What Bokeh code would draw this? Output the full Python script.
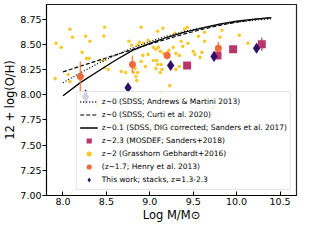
from bokeh.plotting import figure
from bokeh.models import ColumnDataSource, Legend, LegendItem, Range1d, FixedTicker
from bokeh.embed import file_html
from bokeh.resources import INLINE

# ---------------- data ----------------
curve_mass = [8.0, 8.2, 8.4, 8.6, 8.8, 9.0, 9.2, 9.4, 9.6, 9.8, 10.0, 10.2, 10.4]
am13_oh = [8.119, 8.217, 8.308, 8.390, 8.463, 8.528, 8.582, 8.628, 8.665, 8.696, 8.720, 8.738, 8.753]
curti20_oh = [8.227, 8.283, 8.338, 8.393, 8.448, 8.502, 8.553, 8.603, 8.648, 8.687, 8.720, 8.745, 8.763]
sanders17_oh = [7.99, 8.12, 8.23, 8.34, 8.44, 8.51, 8.57, 8.62, 8.66, 8.70, 8.73, 8.75, 8.765]

gg_mass = [8.08, 8.48, 8.11, 8.26, 8.31, 8.47, 7.92, 7.98, 8.22, 8.27, 8.30, 8.46, 8.52, 8.48,
           8.67, 8.72, 8.06, 8.08, 7.91, 8.39, 8.76, 8.90, 9.09, 9.15, 9.29, 9.40, 9.56, 9.63,
           9.43, 8.79, 8.86, 8.93, 8.88, 8.98, 9.04, 9.07, 9.10, 9.12, 9.16, 9.22, 9.27, 9.30,
           9.34, 9.36, 9.38, 9.50, 9.52, 9.63, 8.98, 8.92, 9.04, 9.08, 9.09, 8.95, 8.90, 9.13,
           9.30, 9.34, 8.83, 8.81, 8.86, 9.12, 9.14, 8.84, 8.85, 9.23, 9.13, 8.86, 9.07, 9.72,
           9.83, 9.81, 10.03, 10.13, 9.60, 9.58, 9.44, 8.66]
gg_oh = [8.65, 8.67, 8.57, 8.58, 8.53, 8.58, 8.51, 8.47, 8.42, 8.36, 8.36, 8.34, 8.25, 8.27,
         8.23, 8.22, 8.20, 8.13, 8.16, 7.90, 8.53, 8.67, 8.63, 8.66, 8.61, 8.65, 8.58, 8.62,
         8.67, 8.49, 8.49, 8.51, 8.52, 8.54, 8.47, 8.45, 8.47, 8.43, 8.41, 8.44, 8.47, 8.41,
         8.39, 8.53, 8.48, 8.43, 8.40, 8.53, 8.40, 8.39, 8.34, 8.34, 8.30, 8.28, 8.33, 8.30,
         8.25, 8.28, 8.26, 8.22, 8.22, 8.22, 8.25, 8.18, 8.14, 8.09, 8.02, 7.95, 8.26, 7.87,
         8.64, 8.57, 8.59, 8.51, 8.42, 8.37, 8.51, 7.72]

mosdef_mass = [9.43, 9.78, 9.96, 10.29]
mosdef_oh = [8.29, 8.39, 8.45, 8.50]
mosdef_err = [0.03, 0.03, 0.03, 0.065]

henry_mass = [8.20, 8.80, 9.20, 9.79]
henry_oh = [8.18, 8.30, 8.39, 8.46]
henry_err_hi = [0.15, 0.09, 0.04, 0.065]
henry_err_lo = [0.19, 0.08, 0.04, 0.04]

stack_mass = [8.26, 8.75, 9.24, 9.74, 10.23]
stack_oh = [7.98, 8.07, 8.29, 8.38, 8.46]
stack_err = [0.07, 0.035, 0.035, 0.035, 0.035]

x_ticks = [8.0, 8.5, 9.0, 9.5, 10.0, 10.5]
x_tick_labels = ["8.0", "8.5", "9.0", "9.5", "10.0", "10.5"]
y_ticks = [7.0, 7.25, 7.5, 7.75, 8.0, 8.25, 8.5, 8.75]
y_tick_labels = ["7.00", "7.25", "7.50", "7.75", "8.00", "8.25", "8.50", "8.75"]

labels = [
    "z~0 (SDSS; Andrews & Martini 2013)",
    "z~0 (SDSS; Curti et al. 2020)",
    "z~0.1 (SDSS, DIG corrected; Sanders et al. 2017)",
    "z~2.3 (MOSDEF; Sanders+2018)",
    "z~2 (Grasshorn Gebhardt+2016)",
    "(z~1.7; Henry et al. 2013)",
    "This work; stacks, z=1.3-2.3",
]

# ---------------- colours ----------------
C_YEL = "#f7c930"
C_ORG = "#ef6a3a"
C_MAG = "#b7366c"
C_PUR = "#331067"
FONT = "DejaVu Sans"

p = figure(width=304, height=224, output_backend="svg", toolbar_location=None,
           x_range=Range1d(7.81, 10.69), y_range=Range1d(7.0, 8.895),
           min_border_left=30, min_border_right=8, min_border_top=4, min_border_bottom=4)
p.grid.visible = False
p.outline_line_color = "#222222"
p.outline_line_width = 1.2
p.background_fill_color = "white"
p.border_fill_color = "white"

p.xaxis.ticker = FixedTicker(ticks=x_ticks)
p.xaxis.major_label_overrides = dict(zip(x_ticks, x_tick_labels))
p.yaxis.ticker = FixedTicker(ticks=y_ticks)
p.yaxis.major_label_overrides = dict(zip(y_ticks, y_tick_labels))
p.xaxis.minor_tick_line_color = None
p.yaxis.minor_tick_line_color = None
p.xaxis.major_tick_in = 4
p.xaxis.major_tick_out = 0
p.yaxis.major_tick_in = 0
p.yaxis.major_tick_out = 4
for ax in (p.xaxis, p.yaxis):
    ax.major_label_text_font = FONT
    ax.major_label_text_font_size = "9.5px"
    ax.major_label_text_color = "black"
    ax.axis_label_text_font = FONT
    ax.axis_label_text_font_size = "11.5px"
    ax.axis_label_text_font_style = "normal"
    ax.axis_label_text_color = "black"
    ax.axis_line_color = "black"
    ax.major_tick_line_color = "black"
    ax.major_label_standoff = 2
    ax.axis_label_standoff = 0
p.yaxis.major_label_standoff = 1
p.xaxis.axis_label = "Log M/M\u2299"
p.yaxis.axis_label = "12 + log(O/H)"

# scatter of Grasshorn Gebhardt+2016
gg_src = ColumnDataSource(dict(x=gg_mass, y=gg_oh))
r_gg = p.scatter("x", "y", source=gg_src, size=3.6, color=C_YEL, line_color=None)

# relations
r_am = p.line(curve_mass, am13_oh, line_color="black", line_width=1.3, line_dash="1 2")
r_cu = p.line(curve_mass, curti20_oh, line_color="black", line_width=1.2, line_dash="4 2")
r_sa = p.line(curve_mass, sanders17_oh, line_color="black", line_width=1.3)

# MOSDEF
ms = ColumnDataSource(dict(x=mosdef_mass, y=mosdef_oh,
                           lo=[a - b for a, b in zip(mosdef_oh, mosdef_err)],
                           hi=[a + b for a, b in zip(mosdef_oh, mosdef_err)]))
p.segment("x", "lo", "x", "hi", source=ms, line_color=C_MAG, line_width=1.5, line_alpha=0.8)
r_ms = p.scatter("x", "y", source=ms, marker="square", size=8, color=C_MAG, line_color=None)

# Henry et al. 2013
hs = ColumnDataSource(dict(x=henry_mass, y=henry_oh,
                           lo=[a - b for a, b in zip(henry_oh, henry_err_lo)],
                           hi=[a + b for a, b in zip(henry_oh, henry_err_hi)]))
p.segment("x", "lo", "x", "hi", source=hs, line_color=C_ORG, line_width=1.5, line_alpha=0.8)
r_he = p.scatter("x", "y", source=hs, marker="circle", size=7, color=C_ORG, line_color=None)

# This work
ss = ColumnDataSource(dict(x=stack_mass, y=stack_oh,
                           lo=[a - b for a, b in zip(stack_oh, stack_err)],
                           hi=[a + b for a, b in zip(stack_oh, stack_err)]))
p.segment("x", "lo", "x", "hi", source=ss, line_color=C_PUR, line_width=1.5)
r_st = p.scatter("x", "y", source=ss, marker="diamond", size=11, color=C_PUR, line_color=None)

legend = Legend(items=[
    LegendItem(label=labels[0], renderers=[r_am]),
    LegendItem(label=labels[1], renderers=[r_cu]),
    LegendItem(label=labels[2], renderers=[r_sa]),
    LegendItem(label=labels[3], renderers=[r_ms]),
    LegendItem(label=labels[4], renderers=[r_gg]),
    LegendItem(label=labels[5], renderers=[r_he]),
    LegendItem(label=labels[6], renderers=[r_st]),
], location="bottom_right")
legend.label_text_font = FONT
legend.label_text_font_size = "7.5px"
legend.label_text_color = "black"
legend.glyph_height = 13
legend.label_height = 13
legend.glyph_width = 18
legend.spacing = -3
legend.padding = 3
legend.margin = 5
legend.label_standoff = 4
legend.background_fill_alpha = 0.8
legend.border_line_color = "#cccccc"
legend.border_line_width = 1
p.add_layout(legend)

open("out.html", "w").write(file_html(p, INLINE))
